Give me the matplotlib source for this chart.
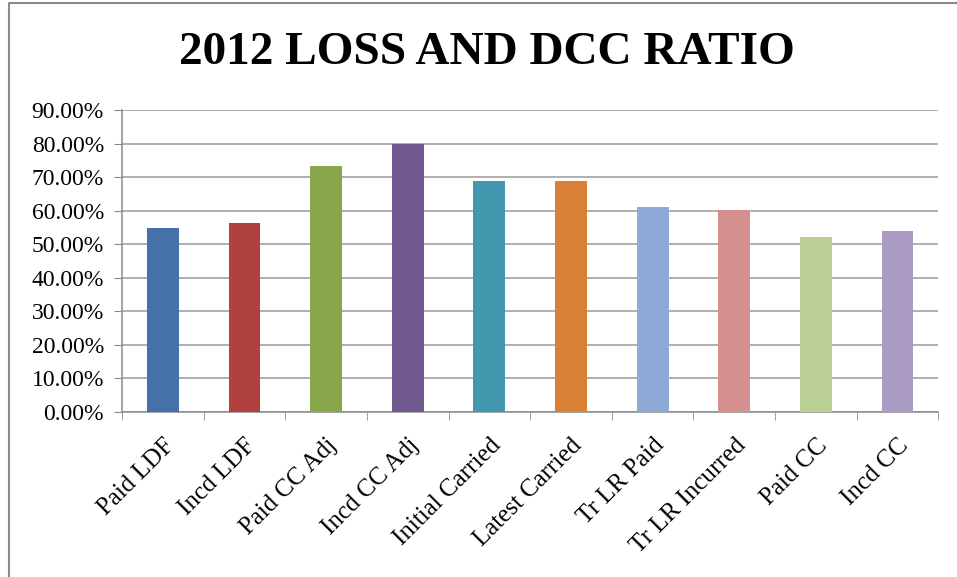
import matplotlib.pyplot as plt
import numpy as np
from matplotlib.ticker import FuncFormatter, FixedLocator
from matplotlib.lines import Line2D

# Data
categories = ['Paid LDF', 'Incd LDF', 'Paid CC Adj', 'Incd CC Adj', 'Initial Carried',
              'Latest Carried', 'Tr LR Paid', 'Tr LR Incurred', 'Paid CC', 'Incd CC']
ratios = [0.550, 0.565, 0.733, 0.798, 0.688, 0.689, 0.612, 0.601, 0.521, 0.540]
colors = ['#4472a8', '#b0413e', '#87a74a', '#71588f', '#4198af',
          '#da8137', '#8eaad8', '#d48f8e', '#b9cf95', '#a99bc4']

plt.rcParams['font.family'] = ['Liberation Serif', 'DejaVu Serif']

fig = plt.figure(figsize=(9.57, 5.77), dpi=100)
ax = fig.add_axes([0.1275, 0.286, 0.853, 0.523])

x = np.arange(len(categories))
ax.bar(x, ratios, width=0.39, color=colors, zorder=3)

ax.set_xlim(-0.5, len(categories) - 0.5)
ax.set_ylim(0, 0.9)
ax.set_yticks(np.arange(0, 0.91, 0.1))
ax.yaxis.set_major_formatter(FuncFormatter(lambda v, p: f'{v * 100:.2f}%'))
ax.grid(axis='y', color='#9a9a9a', linewidth=1.1, zorder=0)

# category labels at centres, tick marks at boundaries
ax.set_xticks(x)
ax.set_xticklabels(categories, rotation=45, ha='right', va='top', rotation_mode='anchor',
                   fontsize=18)
ax.xaxis.set_minor_locator(FixedLocator(np.arange(-0.5, len(categories), 1.0)))
ax.tick_params(axis='x', which='major', length=0, pad=16)
ax.tick_params(axis='x', which='minor', length=6, color='#8a8a8a', direction='out')
ax.tick_params(axis='y', length=6, color='#8a8a8a', labelsize=17, pad=7)

for s in ['top', 'right']:
    ax.spines[s].set_visible(False)
for s in ['left', 'bottom']:
    ax.spines[s].set_color('#8a8a8a')
    ax.spines[s].set_linewidth(1.1)

fig.text(0.509, 0.908, '2012 LOSS AND DCC RATIO', ha='center', va='center',
         fontsize=34, fontweight='bold')

# outer chart border (left and top edges only are visible)
fig.add_artist(Line2D([0.009, 0.009, 1.0], [0.0, 0.995, 0.995], transform=fig.transFigure,
                      color='#8a8a8a', linewidth=1.5))

fig.savefig('out.png', dpi=100)
